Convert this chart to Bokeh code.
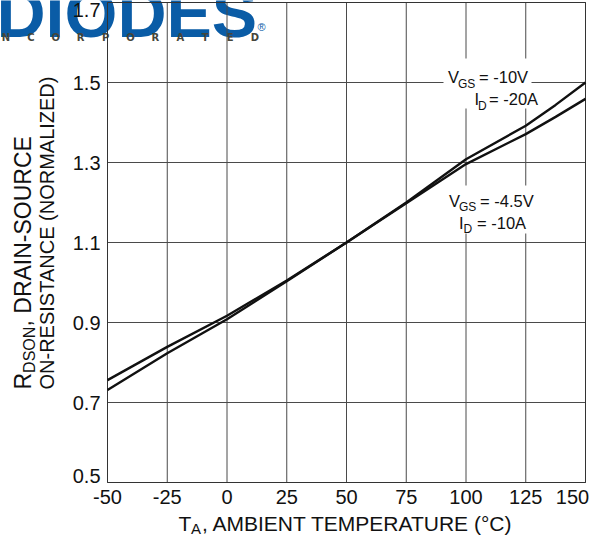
import math
from bokeh.plotting import figure
from bokeh.models import Range1d, ColumnDataSource
from bokeh.core.properties import value
from bokeh.embed import file_html
from bokeh.resources import INLINE

# ---------------- data ----------------
temps = [-50, -25, 0, 25, 50, 75, 100, 125, 137.5, 150]
r_vgs10 = [0.731, 0.823, 0.908, 1.003, 1.100, 1.200, 1.308, 1.392, 1.444, 1.500]
r_vgs45 = [0.756, 0.839, 0.917, 1.005, 1.100, 1.198, 1.296, 1.371, 1.414, 1.459]

x_ticks = [-50, -25, 0, 25, 50, 75, 100, 125, 150]
x_labels = ["-50", "-25", "0", "25", "50", "75", "100", "125", "150"]
y_ticks = [0.5, 0.7, 0.9, 1.1, 1.3, 1.5, 1.7]
y_labels = ["0.5", "0.7", "0.9", "1.1", "1.3", "1.5", "1.7"]

# ---------------- layout ----------------
X0, X1, Y0, Y1 = -50, 150, 0.5, 1.7
W, H = 593, 535
FL, FR, FT, FB = 107, 585, 2, 482   # chart box in page pixels
FONT = "Liberation Sans"
INK = "#111111"
K = 0.19   # empirical shift of the rendered alphabetic baseline (in em)

def dx(px):
    return X0 + (px - FL) * (X1 - X0) / (FR - FL)

def dy(py):
    return Y1 - (py - FT) * (Y1 - Y0) / (FB - FT)

p = figure(width=W, height=H, output_backend="svg", toolbar_location=None,
           x_range=Range1d(dx(0), dx(W)), y_range=Range1d(dy(H), dy(0)),
           x_axis_location=None, y_axis_location=None,
           min_border_left=0, min_border_right=0,
           min_border_top=0, min_border_bottom=0)
p.grid.visible = False
p.background_fill_color = "white"
p.border_fill_color = "white"
p.outline_line_color = None

def piece(px, py, txt, size, font=FONT, color=INK, rotated=False, **kw):
    s = float(size.rstrip("px"))
    if rotated:
        px -= K * s
        kw["angle"] = math.pi / 2
    else:
        py -= K * s
    p.text(x=[dx(px)], y=[dy(py)], text=[txt], text_font=value(font),
           text_font_size=size, text_color=color, text_baseline="alphabetic", **kw)

# ---------------- logo (behind grid) ----------------
piece(-4, 25, "DIODES", "68px", text_font_style="bold", color="#0a5ca6")
for i, ch in enumerate("NCORPORATED"):
    piece(5.5 + 24.9 * i, 38.5, ch, "10px", font="DejaVu Sans", color="#45453a",
          text_font_style="bold", text_align="center")
piece(257, 29, "®", "11px", color="#0a5ca6")

# ---------------- grid & box ----------------
GRID = "#4a4a4a"
p.segment(x0=x_ticks, y0=[Y0] * len(x_ticks), x1=x_ticks, y1=[Y1] * len(x_ticks),
          line_color=GRID, line_width=1)
p.segment(x0=[X0] * len(y_ticks), y0=y_ticks, x1=[X1] * len(y_ticks), y1=y_ticks,
          line_color=GRID, line_width=1)
p.quad(left=[X0], right=[X1], bottom=[Y0], top=[Y1], fill_alpha=0,
       line_color="#333333", line_width=1)

# white backgrounds of the curve labels
for (l, r, t, b) in [(443, 531, 58, 108), (445, 533, 185, 233)]:
    p.quad(left=[dx(l)], right=[dx(r)], top=[dy(t)], bottom=[dy(b)],
           fill_color="white", line_alpha=0)

# ---------------- curves ----------------
p.line(temps, r_vgs10, line_color=INK, line_width=2.4)
p.line(temps, r_vgs45, line_color=INK, line_width=2.4)

# ---------------- curve labels ----------------
MAIN, SUB = "16.5px", "12px"
piece(447.5, 80, "V", MAIN)
piece(457.5, 85.5, "GS", SUB)
piece(478.5, 80, "= -10V", MAIN)
piece(474, 102, "I", MAIN)
piece(477.5, 107.5, "D", SUB)
piece(488.5, 102, "= -20A", MAIN)

piece(448.5, 203.5, "V", MAIN)
piece(458.5, 209, "GS", SUB)
piece(479.5, 203.5, "= -4.5V", MAIN)
piece(458.5, 225.5, "I", MAIN)
piece(463, 231, "D", SUB)
piece(476.5, 225.5, "= -10A", MAIN)

# ---------------- tick labels ----------------
x_off = [0, 0, 0, 0, 0, 0, 0, 0, -13]
xsrc = ColumnDataSource(dict(x=x_ticks, y=[Y0] * len(x_ticks), text=x_labels, xo=x_off))
p.text(x="x", y="y", text="text", source=xsrc, x_offset="xo", y_offset=7,
       text_align="center", text_baseline="top", text_font=value(FONT),
       text_font_size="20px", text_color=INK)
y_off = [-7, 0, 0, 0, 0, 0, 7.5]
ysrc = ColumnDataSource(dict(x=[X0] * len(y_ticks), y=y_ticks, text=y_labels, yo=y_off))
p.text(x="x", y="y", text="text", source=ysrc, x_offset=-7, y_offset="yo",
       text_align="right", text_baseline="middle", text_font=value(FONT),
       text_font_size="20px", text_color=INK)

# ---------------- axis titles ----------------
piece(178, 526.5, "T", "21px")
piece(190.5, 531, "A", "15px")
piece(201.5, 526.5, ", AMBIENT TEMPERATURE (°C)", "21px")

piece(27, 389, "R", "23px", rotated=True)
piece(32.5, 372.4, "DSON", "16px", rotated=True)
piece(27, 326, ", DRAIN-SOURCE", "23px", rotated=True)
piece(50, 389, "ON-RESISTANCE (NORMALIZED)", "20px", rotated=True)

open("out.html", "w").write(file_html(p, INLINE))
